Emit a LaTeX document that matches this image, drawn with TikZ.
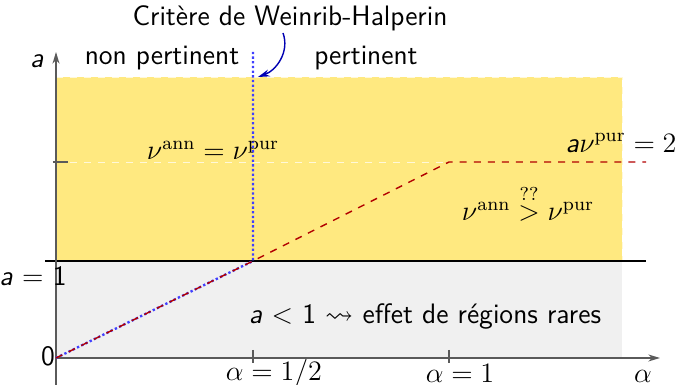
\documentclass[tikz,border=0pt]{standalone}
\usepackage{amssymb}
\usepackage{fontspec}
\usetikzlibrary{arrows.meta}
\definecolor{zoneyellow}{RGB}{255,233,128}
\definecolor{zonegray}{RGB}{240,240,240}
\definecolor{axisgray}{RGB}{90,90,90}
\begin{document}
\begin{tikzpicture}[x=0.015cm,y=-0.015cm,
  lbl/.style={font=\sffamily\large, inner sep=0pt},
  mlbl/.style={font=\large, inner sep=0pt},
  critline/.style={blue!75!white, line width=1pt, densely dotted},
  flowline/.style={red!70!black, dashed, line width=0.6pt},
  axisline/.style={axisgray, line width=0.6pt},
  gridw/.style={white!70!zoneyellow, dashed, line width=0.4pt}]
\useasboundingbox (0,0) rectangle (679,385);
% zones
\fill[zonegray] (56,261) rectangle (622,358);
\fill[zoneyellow] (56,77) rectangle (622,261);
\draw[gridw] (56,77) -- (622,77) -- (622,261);
\draw[gridw] (56,162) -- (449,162);
% coordinates
\coordinate (O) at (56,358);
\coordinate (H) at (253,261);
\coordinate (K) at (449,162);
\coordinate (E) at (646,162);
\coordinate (Vtop) at (253,52);
% a=1 line
\draw[black, line width=0.6pt] (45,261) -- (646,261);
% axes
\draw[axisline, -{Stealth[length=5pt,width=3pt]}] (56,385) -- (56,52);
\draw[axisline, -{Stealth[length=5pt,width=3pt]}] (56,358) -- (660,358);
\draw[axisline] (53,162) -- (68,162);
\draw[axisline] (253,350) -- (253,363);
\draw[axisline] (449,350) -- (449,363);
% Weinrib-Halperin criterion
\draw[critline] (O) -- (H) -- (Vtop);
% nu^pur
\draw[flowline] (O) -- (H) -- (K) -- (E);
% labels
\node[lbl] (crit) at (290,18) {Critère de Weinrib-Halperin};
\draw[blue!70!black, line width=0.6pt, -{Stealth[length=5pt,width=3pt]}] (283,33) to[out=-70, in=20] (258,77);
\node[lbl] (ya) at (37,61) {\textit{a}};
\node[lbl] (np) at (162,58) {non pertinent};
\node[lbl] (p) at (366,58) {pertinent};
\node[mlbl] (eq) at (213,150) {$\nu^{\mathrm{ann}} = \nu^{\mathrm{pur}}$};
\node[mlbl, anchor=east] (a2) at (677,143) {\textsf{\textit{a}}$\nu^{\mathrm{pur}} = 2$};
\node[mlbl] (gt) at (528,203) {$\nu^{\mathrm{ann}} \stackrel{??}{>} \nu^{\mathrm{pur}}$};
\node[lbl] (rare) at (425,316) {\textit{a} $<$ 1 $\rightsquigarrow$ effet de régions rares};
\node[lbl, anchor=east] (a1) at (67,276) {\textit{a} $=$ 1};
\node[lbl] (zero) at (48,356) {0};
\node[mlbl] (h) at (274,373) {$\alpha = 1/2$};
\node[mlbl] (one) at (460,373) {$\alpha = 1$};
\node[mlbl] (al) at (643,376) {$\alpha$};
\end{tikzpicture}
\end{document}
